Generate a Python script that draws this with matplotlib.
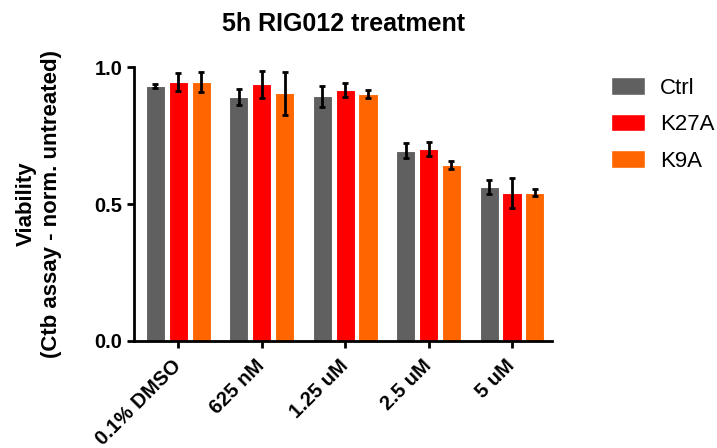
import numpy as np
import matplotlib.pyplot as plt
from matplotlib.patches import Patch

plt.rcParams['font.family'] = ['Liberation Sans', 'DejaVu Sans']

# treatment groups and series
categories = ["0.1% DMSO", "625 nM", "1.25 uM", "2.5 uM", "5 uM"]
series = ["Ctrl", "K27A", "K9A"]
ctrl = [0.931, 0.891, 0.893, 0.695, 0.562]
ctrl_err = [0.006, 0.030, 0.037, 0.027, 0.026]
k27a = [0.946, 0.937, 0.917, 0.700, 0.539]
k27a_err = [0.033, 0.050, 0.025, 0.026, 0.055]
k9a = [0.945, 0.904, 0.902, 0.642, 0.541]
k9a_err = [0.036, 0.078, 0.016, 0.014, 0.013]

colors = ["#606060", "#FF0000", "#FF6600"]

fig = plt.figure(figsize=(7.17, 4.48), dpi=100)
ax = fig.add_axes([0.187, 0.239, 0.583, 0.611])

x = np.arange(len(categories))
width = 0.228
step = 0.275
for i, (vals, errs) in enumerate([(ctrl, ctrl_err), (k27a, k27a_err), (k9a, k9a_err)]):
    ax.bar(x + (i - 1) * step, vals, width, color=colors[i], edgecolor="white",
           linewidth=0.8, zorder=2)
    ax.errorbar(x + (i - 1) * step, vals, yerr=errs, fmt="none", ecolor="black",
                elinewidth=2, capsize=2.5, capthick=2, zorder=3, clip_on=False)

ax.set_xlim(-0.527, 4.48)
ax.set_ylim(0, 1.0)
ax.set_yticks([0.0, 0.5, 1.0])
ax.set_yticklabels(["0.0", "0.5", "1.0"], fontsize=14.5, fontweight="bold")
ax.set_xticks(x)
ax.set_xticklabels(categories, rotation=45, ha="right", va="center",
                   rotation_mode="anchor", fontsize=14.5, fontweight="bold")
ax.tick_params(axis="both", direction="out", length=5, width=2)
ax.tick_params(axis="x", pad=11)
for side in ["top", "right"]:
    ax.spines[side].set_visible(False)
for side in ["left", "bottom"]:
    ax.spines[side].set_linewidth(2)

ax.set_ylabel("Viability\n(Ctb assay - norm. untreated)", fontsize=16,
              fontweight="bold", labelpad=23, linespacing=1.25)
ax.set_title("5h RIG012 treatment", fontsize=18, fontweight="bold", pad=26)

handles = [Patch(facecolor=c, edgecolor="white") for c in colors]
fig.legend(handles, series, loc="upper left", bbox_to_anchor=(0.840, 0.848),
           frameon=False, fontsize=16, handlelength=1.5, handleheight=0.85,
           labelspacing=0.68, handletextpad=0.7, borderaxespad=0)

fig.savefig("out.png", dpi=100)
